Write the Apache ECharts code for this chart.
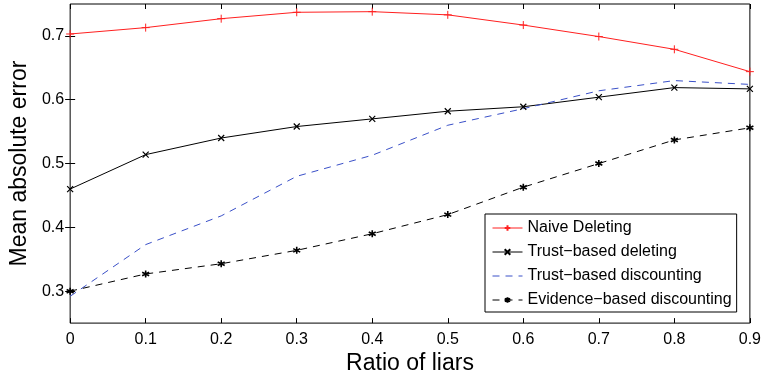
<!DOCTYPE html>
<html>
<head>
<meta charset="utf-8">
<script src="https://cdn.jsdelivr.net/npm/echarts@6/dist/echarts.min.js"></script>
<style>
  html, body { margin: 0; padding: 0; background: #fff; }
  #chart { width: 764px; height: 380px; }
</style>
</head>
<body>
<div id="chart"></div>
<script>
// ratio of liars (x)
const ratios = [0, 0.1, 0.2, 0.3, 0.4, 0.5, 0.6, 0.7, 0.8, 0.9];
const yTicks = [0.3, 0.4, 0.5, 0.6, 0.7];

const naiveDeleting = [0.703, 0.713, 0.727, 0.737, 0.738, 0.733, 0.717, 0.699, 0.679, 0.644];
const trustDeleting = [0.460, 0.514, 0.540, 0.558, 0.570, 0.582, 0.589, 0.604, 0.619, 0.617];
const trustDiscounting = [0.292, 0.373, 0.418, 0.480, 0.513, 0.560, 0.586, 0.614, 0.630, 0.624];
const evidenceDiscounting = [0.300, 0.327, 0.343, 0.364, 0.390, 0.420, 0.463, 0.500, 0.537, 0.556];

const pair = arr => ratios.map((x, i) => [x, arr[i]]);

const FONT = '"Liberation Sans", Arial, Helvetica, sans-serif';
const PLUS = 'path://M5,0L5,10M0,5L10,5';
const CROSS = 'path://M0,0L10,10M0,10L10,0';
const STAR = 'path://M5,0L5,10M0.7,2.5L9.3,7.5M0.7,7.5L9.3,2.5';

const myChart = echarts.init(document.getElementById('chart'));

const mirrorAxis = {
  axisLine: { show: false },
  axisLabel: { show: false },
  axisTick: { show: true, inside: true, length: 5, lineStyle: { color: '#000' } },
  splitLine: { show: false }
};

const option = {
  animation: false,
  backgroundColor: '#fff',
  textStyle: { fontFamily: FONT },
  grid: {
    left: 64, right: 14, top: 4, bottom: 47,
    show: true, borderColor: '#000', borderWidth: 1
  },
  legend: {
    orient: 'vertical',
    left: 485, top: 214,
    padding: [6, 5, 4, 7],
    itemWidth: 30, itemHeight: 7, itemGap: 8,
    backgroundColor: '#fff',
    borderColor: '#000', borderWidth: 1,
    lineStyle: { width: 1 },
    textStyle: { fontFamily: FONT, fontSize: 16, lineHeight: 14, color: '#000' },
    data: [
      { name: 'Naive Deleting' },
      { name: 'Trust−based deleting' },
      { name: 'Trust−based discounting', itemStyle: { color: 'transparent', borderWidth: 0 } },
      { name: 'Evidence−based discounting' }
    ]
  },
  xAxis: [{
    type: 'value', min: 0, max: 0.9, interval: 0.1,
    name: 'Ratio of liars', nameLocation: 'middle', nameGap: 20,
    nameTextStyle: { fontFamily: FONT, fontSize: 23, color: '#000' },
    axisLine: { show: false },
    axisTick: { show: true, inside: true, length: 5, lineStyle: { color: '#000' } },
    axisLabel: { fontFamily: FONT, fontSize: 16, color: '#000', margin: 8 },
    splitLine: { show: false }
  }, Object.assign({ type: 'value', min: 0, max: 0.9, interval: 0.1, position: 'top' }, mirrorAxis)],
  yAxis: [{
    type: 'value', min: 0.25, max: 0.75,
    name: 'Mean absolute error', nameLocation: 'middle', nameGap: 30,
    nameTextStyle: { fontFamily: FONT, fontSize: 23, color: '#000' },
    axisLine: { show: false },
    axisTick: { show: true, inside: true, length: 5, customValues: yTicks, lineStyle: { color: '#000' } },
    axisLabel: { fontFamily: FONT, fontSize: 16, color: '#000', margin: 6, customValues: yTicks },
    splitLine: { show: false }
  }, Object.assign({ type: 'value', min: 0.25, max: 0.75, position: 'right' }, mirrorAxis,
    { axisTick: { show: true, inside: true, length: 5, customValues: yTicks, lineStyle: { color: '#000' } } })],
  series: [{
    type: 'line', name: 'Naive Deleting',
    data: pair(naiveDeleting),
    symbol: PLUS, symbolSize: 8,
    itemStyle: { color: '#ff2020', borderColor: '#ff2020', borderWidth: 1 },
    lineStyle: { color: '#ff2020', width: 1 }
  }, {
    type: 'line', name: 'Trust−based deleting',
    data: pair(trustDeleting),
    symbol: CROSS, symbolSize: 6,
    itemStyle: { color: '#000', borderColor: '#000', borderWidth: 1.2 },
    lineStyle: { color: '#000', width: 1 }
  }, {
    type: 'line', name: 'Trust−based discounting',
    data: pair(trustDiscounting),
    symbol: 'none',
    itemStyle: { color: '#3a50c8' },
    lineStyle: { color: '#3a50c8', width: 1, type: [7, 6] }
  }, {
    type: 'line', name: 'Evidence−based discounting',
    data: pair(evidenceDiscounting),
    symbol: STAR, symbolSize: 7,
    itemStyle: { color: '#000', borderColor: '#000', borderWidth: 1.6 },
    lineStyle: { color: '#000', width: 1, type: [7, 6] }
  }]
};

myChart.setOption(option);
</script>
</body>
</html>
